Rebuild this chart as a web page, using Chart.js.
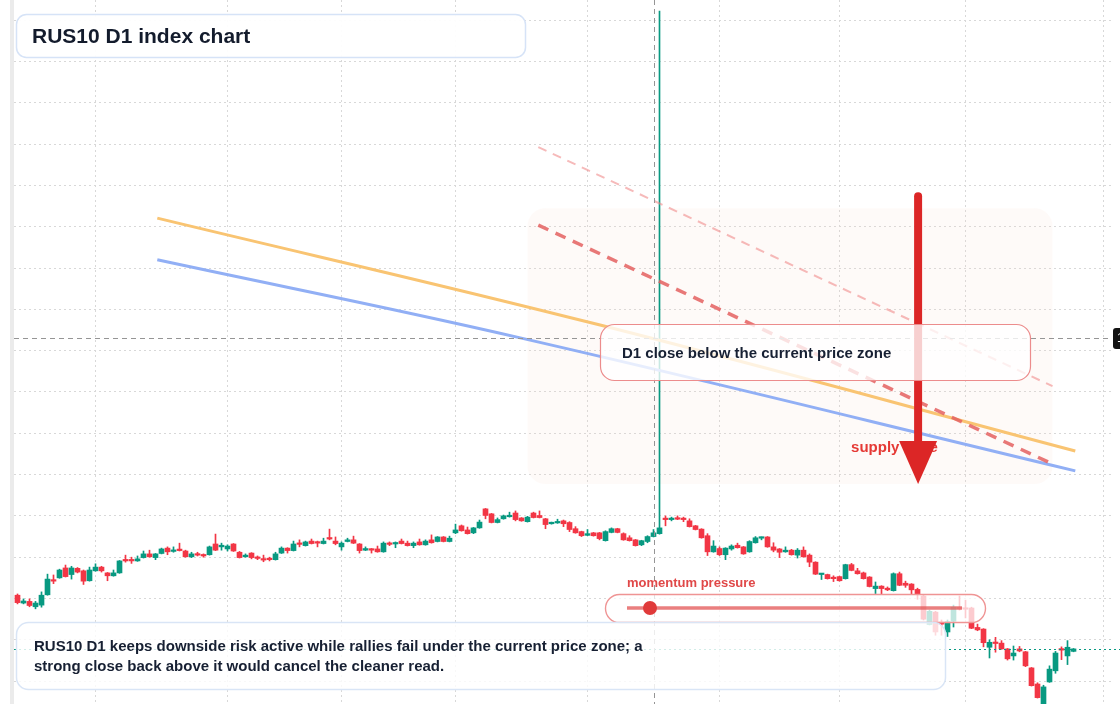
<!DOCTYPE html>
<html>
<head>
<meta charset="utf-8">
<title>RUS10 D1 index chart</title>
<script src="https://cdn.jsdelivr.net/npm/chart.js@4.4.1/dist/chart.umd.min.js"></script>
<style>
  html, body { margin: 0; padding: 0; background: #fff; }
  #wrap { width: 1120px; height: 704px; position: relative; }
</style>
</head>
<body>
<div id="wrap"><canvas id="chart" width="1120" height="704"></canvas></div>
<script>
// daily candles, oldest first
const opens = [1020.8,1018.9,1019.3,1018.0,1018.4,1020.9,1024.5,1025.0,1027.4,1025.8,
  1027.3,1026.7,1024.3,1026.7,1027.6,1026.2,1025.5,1026.2,1029.4,1029.4,
  1029.1,1029.9,1030.8,1029.9,1030.9,1032.2,1031.4,1031.7,1031.5,1030.1,
  1030.8,1030.5,1030.6,1033.2,1032.5,1032.0,1033.2,1031.2,1030.1,1031.0,
  1030.0,1029.6,1029.7,1029.4,1031.0,1032.2,1031.6,1033.4,1032.8,1033.9,
  1033.6,1033.3,1034.6,1033.9,1032.5,1033.8,1034.2,1033.2,1031.7,1032.0,
  1032.0,1031.3,1033.4,1033.2,1033.9,1033.4,1032.8,1033.7,1033.0,1034.2,
  1033.8,1034.9,1033.8,1035.9,1037.6,1036.6,1035.9,1037.1,1041.7,1040.5,
  1038.4,1039.3,1039.8,1040.7,1039.5,1038.6,1040.7,1040.1,1039.3,1038.1,
  1038.3,1038.8,1038.4,1036.9,1036.2,1035.3,1035.9,1035.9,1034.0,1036.0,
  1036.9,1035.7,1034.7,1034.2,1033.0,1033.8,1035.0,1035.7,1039.4,1039.1,
  1039.5,1039.3,1038.8,1037.6,1036.8,1035.2,1031.3,1032.1,1030.6,1032.0,
  1032.9,1032.5,1031.3,1033.5,1034.6,1034.9,1032.5,1032.0,1031.3,1031.7,
  1030.5,1031.7,1030.5,1028.8,1025.8,1025.8,1025.1,1025.3,1024.8,1028.2,
  1026.7,1026.2,1025.2,1022.4,1023.0,1022.5,1021.9,1026.0,1023.7,1023.5,
  1022.2,1020.6,1013.7,1016.7,1014.3,1011.9,1014.5,1017.7,1017.7,1017.7,
  1013.0,1012.6,1008.2,1009.4,1009.2,1007.8,1006.1,1007.8,1007.1,1003.2,
  999.3,994.0,999.8,1002.5,1007.8,1006.1,1007.2];
const highs = [1021.1,1019.9,1019.9,1019.3,1021.6,1025.9,1025.7,1027.1,1028.1,1027.8,
  1027.5,1026.9,1027.6,1028.4,1027.8,1026.3,1026.9,1029.2,1030.5,1030.0,
  1030.3,1031.5,1031.7,1030.9,1032.2,1032.5,1032.5,1033.4,1031.7,1031.2,
  1031.2,1030.8,1032.7,1035.6,1033.4,1033.0,1033.3,1031.4,1030.8,1031.1,
  1030.3,1030.5,1030.0,1031.2,1032.5,1032.3,1033.9,1034.2,1033.9,1034.4,
  1033.9,1034.6,1036.8,1034.9,1033.7,1034.6,1035.1,1033.3,1032.5,1032.1,
  1032.7,1033.7,1033.7,1033.7,1034.4,1033.9,1033.7,1034.4,1034.2,1035.4,
  1035.0,1035.0,1035.1,1038.0,1037.8,1037.3,1037.2,1039.0,1041.8,1040.6,
  1039.5,1040.2,1040.9,1041.2,1039.6,1039.9,1040.9,1041.2,1039.4,1038.5,
  1039.2,1039.0,1038.6,1037.4,1036.3,1036.7,1036.0,1036.0,1036.4,1037.1,
  1037.0,1035.9,1035.2,1034.3,1034.1,1035.2,1036.7,1162.2,1040.0,1039.7,
  1040.0,1039.7,1039.3,1037.7,1036.9,1035.7,1034.0,1032.5,1032.3,1033.0,
  1033.4,1032.6,1034.0,1035.0,1034.9,1035.0,1033.5,1032.1,1032.5,1031.9,
  1032.1,1032.5,1030.8,1028.9,1026.0,1025.9,1025.5,1025.4,1028.3,1028.5,
  1027.3,1026.4,1025.3,1024.0,1023.1,1022.8,1026.2,1026.4,1024.2,1023.6,
  1022.5,1020.9,1017.2,1016.9,1014.8,1014.8,1018.4,1020.6,1019.6,1017.9,
  1013.8,1012.7,1010.0,1010.6,1009.8,1007.9,1008.5,1008.4,1007.2,1003.3,
  999.6,999.0,1003.7,1007.2,1008.3,1009.8,1007.9];
const lows = [1018.7,1018.7,1018.0,1017.5,1017.9,1020.8,1023.6,1024.9,1025.2,1024.7,
  1026.2,1023.4,1024.2,1026.6,1026.4,1024.3,1025.4,1026.1,1028.8,1028.5,
  1029.0,1029.8,1030.0,1029.4,1030.8,1030.6,1031.2,1031.5,1030.0,1029.9,
  1030.3,1030.0,1030.5,1031.6,1031.7,1031.5,1031.4,1029.8,1030.0,1029.6,
  1029.4,1028.9,1029.1,1029.3,1030.9,1031.0,1031.5,1032.5,1032.7,1033.2,
  1032.5,1033.2,1034.2,1033.0,1031.7,1033.7,1033.3,1031.0,1031.6,1031.0,
  1031.2,1031.2,1032.8,1032.3,1033.2,1032.7,1032.3,1032.9,1032.9,1033.4,
  1033.7,1033.7,1033.7,1035.7,1036.3,1035.6,1035.7,1037.0,1039.3,1038.3,
  1038.3,1039.2,1039.7,1038.8,1038.7,1038.5,1039.5,1039.5,1036.9,1038.0,
  1038.2,1037.4,1036.2,1035.8,1035.0,1035.2,1035.1,1034.2,1033.9,1035.9,
  1035.9,1034.1,1033.9,1032.7,1032.8,1033.5,1034.9,1035.6,1037.6,1038.8,
  1039.1,1038.6,1037.3,1036.6,1034.6,1030.4,1031.2,1030.4,1029.4,1031.7,
  1032.2,1030.7,1031.2,1033.4,1034.2,1032.4,1031.3,1029.9,1031.2,1030.5,
  1029.8,1030.0,1027.7,1025.8,1024.6,1024.7,1024.1,1024.2,1024.7,1026.7,
  1025.9,1024.7,1022.8,1021.2,1021.0,1021.9,1021.8,1023.1,1022.7,1021.1,
  1019.8,1014.8,1013.6,1011.1,1011.1,1010.8,1013.1,1017.2,1015.3,1012.7,
  1012.2,1008.3,1005.6,1007.0,1007.7,1005.1,1005.1,1007.1,1003.5,998.8,
  995.9,993.5,999.7,1001.9,1005.2,1004.0,1007.1];
const closes = [1019.0,1019.4,1018.3,1018.9,1020.8,1024.7,1024.2,1026.9,1025.3,1027.4,
  1026.4,1024.2,1026.9,1027.6,1026.7,1025.5,1026.2,1029.1,1029.1,1029.1,
  1029.6,1030.8,1030.1,1030.8,1032.0,1031.3,1031.7,1031.6,1030.1,1030.8,
  1030.5,1030.3,1032.5,1031.7,1032.9,1032.7,1031.5,1029.9,1030.5,1029.9,
  1029.7,1029.3,1029.4,1030.8,1032.2,1031.6,1033.2,1033.1,1033.7,1033.3,
  1033.4,1033.9,1034.4,1033.3,1033.4,1034.2,1033.4,1031.6,1032.1,1031.7,
  1031.3,1033.4,1033.1,1033.4,1033.3,1032.8,1033.4,1033.0,1033.9,1033.5,
  1034.9,1033.8,1034.6,1036.6,1036.4,1035.7,1037.1,1038.5,1040.1,1038.4,
  1039.1,1040.0,1040.0,1039.1,1038.8,1039.7,1039.6,1039.6,1037.9,1038.4,
  1038.5,1038.1,1036.7,1035.9,1035.2,1035.7,1035.2,1034.5,1036.2,1036.9,
  1036.0,1034.2,1034.0,1032.8,1034.0,1035.0,1035.9,1037.1,1039.1,1039.4,
  1039.2,1039.1,1037.4,1036.7,1034.7,1031.3,1032.7,1030.6,1032.2,1032.7,
  1032.3,1030.8,1033.8,1034.7,1034.8,1032.5,1031.7,1031.2,1031.7,1030.6,
  1031.7,1030.1,1028.8,1025.9,1025.9,1024.8,1024.8,1024.3,1028.2,1026.8,
  1026.0,1024.8,1022.9,1023.0,1022.4,1022.1,1026.0,1023.2,1023.2,1022.1,
  1021.1,1015.0,1016.9,1011.9,1013.8,1014.4,1017.9,1017.5,1017.4,1012.8,
  1012.4,1009.3,1009.4,1009.1,1007.8,1005.4,1006.8,1007.3,1003.7,998.9,
  996.0,998.6,1002.9,1006.8,1007.5,1008.2,1007.8];

// month boundaries (candle index) and price grid
const monthTicks = [13, 35, 54, 73, 95, 117, 137, 158, 181];
const priceTicks = [1000, 1010, 1020, 1030, 1040, 1050, 1060, 1070, 1080, 1090,
  1100, 1110, 1120, 1130, 1140, 1150, 1160];

// drawn studies: [candle index, price]
const orangeLine = [[23.3, 1112.1], [97.1, 1086.2], [176.3, 1055.7]];
const blueLine = [[23.3, 1102.0], [83.8, 1083.1], [176.3, 1050.9]];
const faintDash = [[86.8, 1129.3], [172.5, 1071.4]];
const boldDash = [[86.8, 1110.4], [172.9, 1052.3]];

// supply zone box and arrow
const zoneIdx = [85.0, 172.5];
const zonePrice = [1114.5, 1047.7];
const arrowIdx = 150.1;
const arrowPrice = [1117.4, 1047.7];

// crosshair
const crossIdx = 106.1;
const crossPrice = 1083.1;

const upColor = '#089981';
const downColor = '#f23645';
const FONT = "'Liberation Sans', Arial, sans-serif";

const candleColors = opens.map((o, i) => closes[i] >= o ? upColor : downColor);
const bodyData = opens.map((o, i) => ({ x: i, y: [o, closes[i]] }));
const wickData = opens.map((o, i) => ({ x: i, y: [lows[i], highs[i]] }));
const toPoints = arr => arr.map(p => ({ x: p[0], y: p[1] }));

function roundRect(ctx, x, y, w, h, r) {
  ctx.beginPath();
  ctx.moveTo(x + r, y);
  ctx.lineTo(x + w - r, y);
  ctx.arcTo(x + w, y, x + w, y + r, r);
  ctx.lineTo(x + w, y + h - r);
  ctx.arcTo(x + w, y + h, x + w - r, y + h, r);
  ctx.lineTo(x + r, y + h);
  ctx.arcTo(x, y + h, x, y + h - r, r);
  ctx.lineTo(x, y + r);
  ctx.arcTo(x, y, x + r, y, r);
  ctx.closePath();
}

function box(ctx, x, y, w, h, r, fill, stroke, lw) {
  roundRect(ctx, x, y, w, h, r);
  ctx.fillStyle = fill;
  ctx.fill();
  ctx.lineWidth = lw;
  ctx.strokeStyle = stroke;
  ctx.stroke();
}

const overlay = {
  id: 'overlay',
  beforeDraw(chart) {
    const ctx = chart.ctx;
    ctx.save();
    ctx.fillStyle = '#ffffff';
    ctx.fillRect(0, 0, chart.width, chart.height);
    ctx.fillStyle = '#ebebeb';
    ctx.fillRect(10, 0, 4, chart.height);
    ctx.restore();
  },
  beforeDatasetsDraw(chart) {
    const { ctx, scales: { x, y } } = chart;
    const l = x.getPixelForValue(zoneIdx[0]), r = x.getPixelForValue(zoneIdx[1]);
    const t = y.getPixelForValue(zonePrice[0]), b = y.getPixelForValue(zonePrice[1]);
    ctx.save();
    roundRect(ctx, l, t, r - l, b - t, 18);
    ctx.fillStyle = 'rgba(248, 220, 200, 0.13)';
    ctx.fill();
    ctx.restore();
  },
  afterDatasetsDraw(chart) {
    const { ctx, chartArea: area, scales: { x, y } } = chart;
    ctx.save();

    // last price line
    const lastY = Math.round(y.getPixelForValue(closes[closes.length - 1])) + 0.5;
    ctx.setLineDash([2, 3]);
    ctx.strokeStyle = upColor;
    ctx.lineWidth = 1.2;
    ctx.beginPath();
    ctx.moveTo(area.left, lastY);
    ctx.lineTo(chart.width, lastY);
    ctx.stroke();

    // crosshair
    const cx = Math.round(x.getPixelForValue(crossIdx)) + 0.5;
    const cy = Math.round(y.getPixelForValue(crossPrice)) + 0.5;
    ctx.setLineDash([5, 4]);
    ctx.strokeStyle = '#959595';
    ctx.lineWidth = 1;
    ctx.beginPath();
    ctx.moveTo(cx, 0);
    ctx.lineTo(cx, chart.height);
    ctx.moveTo(area.left, cy);
    ctx.lineTo(area.right - 2, cy);
    ctx.stroke();
    ctx.setLineDash([]);

    // arrow + label
    const ax = x.getPixelForValue(arrowIdx);
    const aTop = y.getPixelForValue(arrowPrice[0]);
    const aTip = y.getPixelForValue(arrowPrice[1]);
    const headLen = 43;
    ctx.font = 'bold 15px ' + FONT;
    ctx.fillStyle = '#e53935';
    ctx.textBaseline = 'middle';
    ctx.textAlign = 'left';
    ctx.fillText('supply zone', ax - 67, aTip - 36);

    ctx.strokeStyle = '#dc2626';
    ctx.lineWidth = 8;
    ctx.lineCap = 'round';
    ctx.beginPath();
    ctx.moveTo(ax, aTop);
    ctx.lineTo(ax, aTip - headLen + 2);
    ctx.stroke();
    ctx.lineCap = 'butt';
    ctx.fillStyle = '#dc2626';
    ctx.beginPath();
    ctx.moveTo(ax - 19, aTip - headLen);
    ctx.lineTo(ax + 19, aTip - headLen);
    ctx.lineTo(ax, aTip);
    ctx.closePath();
    ctx.fill();

    // callout
    box(ctx, 600.5, 324.5, 430, 56, 14, 'rgba(255,255,255,0.78)', '#ec8c8c', 1.2);
    ctx.font = 'bold 15px ' + FONT;
    ctx.fillStyle = '#172033';
    ctx.fillText('D1 close below the current price zone', 622, 354);

    // momentum gauge
    ctx.font = 'bold 13px ' + FONT;
    ctx.fillStyle = '#e04848';
    ctx.fillText('momentum pressure', 627, 583);
    box(ctx, 605.5, 594.5, 380, 28, 14, 'rgba(255,255,255,0.74)', '#ef9494', 1.4);
    ctx.strokeStyle = 'rgba(226, 78, 78, 0.72)';
    ctx.lineWidth = 3.5;
    ctx.beginPath();
    ctx.moveTo(627, 608);
    ctx.lineTo(962, 608);
    ctx.stroke();
    ctx.fillStyle = '#e03a3a';
    ctx.beginPath();
    ctx.arc(650, 608, 7, 0, Math.PI * 2);
    ctx.fill();

    // note box
    box(ctx, 16.5, 622.5, 929, 67, 12, 'rgba(255,255,255,0.82)', '#d9e5f6', 1.5);
    ctx.font = 'bold 15px ' + FONT;
    ctx.fillStyle = '#172033';
    ctx.fillText('RUS10 D1 keeps downside risk active while rallies fail under the current price zone; a', 34, 647);
    ctx.fillText('strong close back above it would cancel the cleaner read.', 34, 667);

    // title box
    box(ctx, 16.5, 14.5, 509, 43, 10, 'rgba(255,255,255,0.95)', '#d6e3f7', 1.5);
    ctx.font = 'bold 21px ' + FONT;
    ctx.fillStyle = '#131b2c';
    ctx.fillText('RUS10 D1 index chart', 32, 37);

    // price label on the right edge
    ctx.fillStyle = '#131313';
    roundRect(ctx, 1113, cy - 10.5, 40, 21, 3);
    ctx.fill();
    ctx.fillStyle = '#ffffff';
    ctx.font = '12px ' + FONT;
    ctx.fillText(crossPrice.toFixed(2), 1117, cy);

    ctx.restore();
  }
};

new Chart(document.getElementById('chart'), {
  type: 'bar',
  data: {
    datasets: [
      { type: 'line', data: toPoints(boldDash), borderColor: 'rgba(228, 96, 96, 0.85)', borderWidth: 3.5,
        borderDash: [11, 8], pointRadius: 0, order: 0 },
      { type: 'line', data: toPoints(faintDash), borderColor: 'rgba(240, 140, 140, 0.6)', borderWidth: 2,
        borderDash: [9, 7], pointRadius: 0, order: 0 },
      { type: 'line', data: toPoints(orangeLine), borderColor: '#f9c472', borderWidth: 3,
        tension: 0.4, pointRadius: 0, order: 1 },
      { type: 'line', data: toPoints(blueLine), borderColor: '#91aff5', borderWidth: 3,
        tension: 0.4, pointRadius: 0, order: 1 },
      { type: 'bar', data: bodyData, backgroundColor: candleColors, barThickness: 5,
        minBarLength: 1.5, grouped: false, order: 2 },
      { type: 'bar', data: wickData, backgroundColor: candleColors, barThickness: 1,
        minBarLength: 1, grouped: false, order: 3 }
    ]
  },
  options: {
    responsive: false,
    animation: false,
    devicePixelRatio: 1,
    layout: { padding: { left: 14, right: 8, top: 0, bottom: 0 } },
    plugins: { legend: { display: false }, tooltip: { enabled: false } },
    scales: {
      x: {
        type: 'linear',
        min: -0.5833,
        max: 182.4167,
        offset: false,
        afterBuildTicks: s => { s.ticks = monthTicks.map(v => ({ value: v })); },
        ticks: { display: false },
        grid: { color: '#d8d8d8', drawTicks: false, offset: false },
        border: { display: false, dash: [2, 3] }
      },
      y: {
        min: 994.46,
        max: 1164.9,
        afterBuildTicks: s => { s.ticks = priceTicks.map(v => ({ value: v })); },
        ticks: { display: false },
        grid: { color: '#d8d8d8', drawTicks: false },
        border: { display: false, dash: [2, 3] }
      }
    }
  },
  plugins: [overlay]
});
</script>
</body>
</html>
